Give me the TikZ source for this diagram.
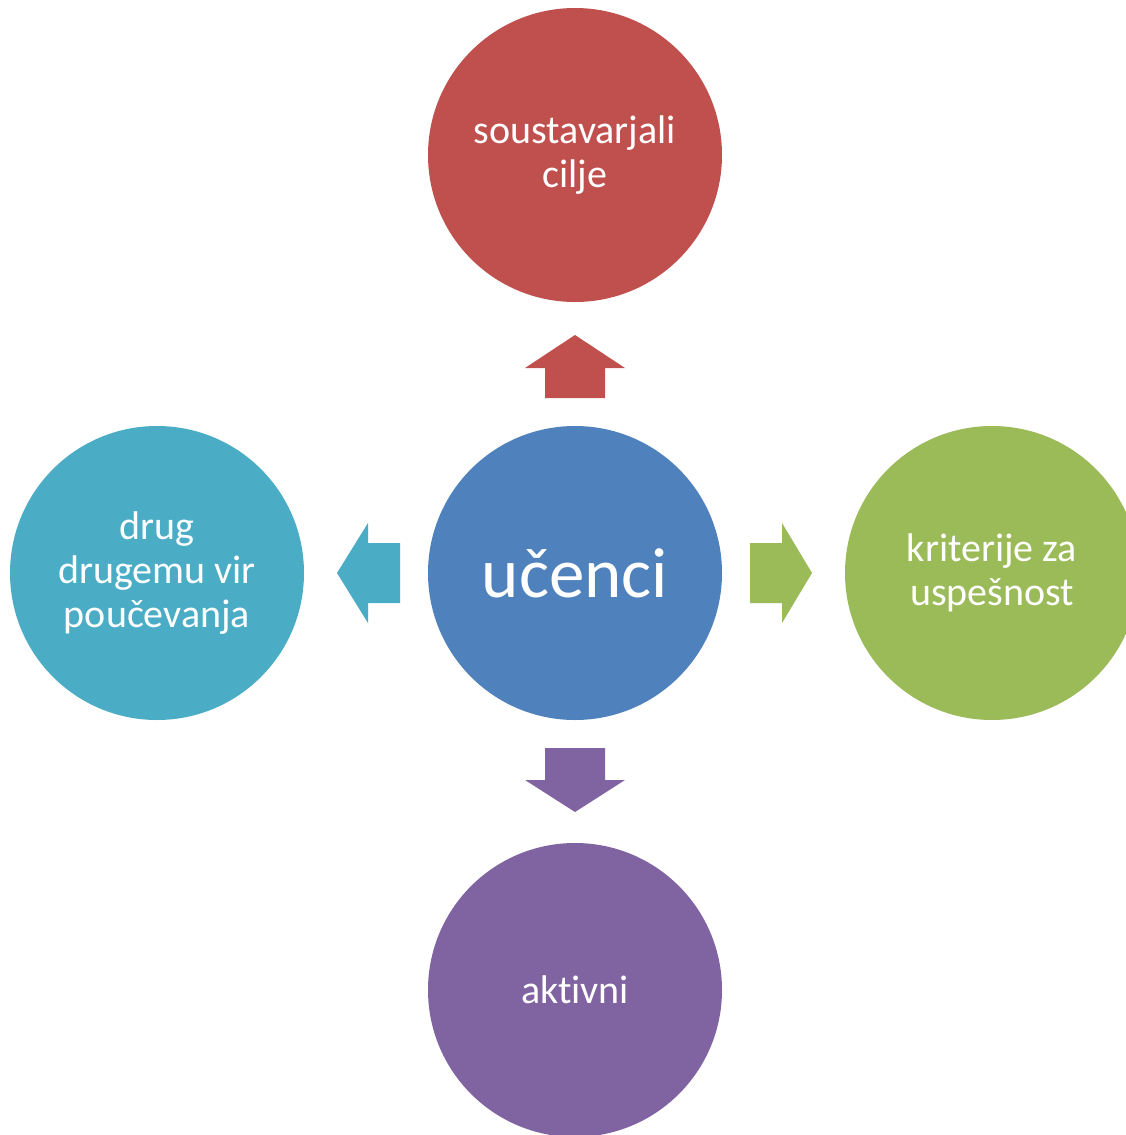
\documentclass[tikz,border=0pt]{standalone}
\usepackage{fontspec}
\setmainfont{Carlito}[Ligatures=NoCommon]
\definecolor{cred}{HTML}{C0504D}
\definecolor{cblue}{HTML}{4F81BD}
\definecolor{cgreen}{HTML}{9BBB59}
\definecolor{cpurple}{HTML}{8064A2}
\definecolor{cteal}{HTML}{4BACC6}
\begin{document}
\begin{tikzpicture}[x=1pt,y=-1pt,
  bubble/.style={circle,minimum size=294pt,inner sep=0pt,text=white,align=center,font=\fontsize{40}{44}\selectfont}]
\useasboundingbox (0,0) rectangle (1126,1135);
\clip (0,0) rectangle (1126,1135);
\node[bubble,fill=cblue,font=\fontsize{71}{76}\selectfont] (c) at (575,573) {učenci};
\node[bubble,fill=cred] (t) at (575,155) {soustavarjali\\cilje};
\node[bubble,fill=cteal] (l) at (157,573) {drug\\drugemu vir\\poučevanja};
\node[bubble,fill=cgreen] (r) at (992,573) {kriterije za\\uspešnost};
\node[bubble,fill=cpurple] (b) at (575,990) {aktivni};
% arrows
\fill[cred] (545,398) -- (545,368) -- (525,368) -- (575,335) -- (625,368) -- (605,368) -- (605,398) -- cycle;
\fill[cpurple] (545,748) -- (545,780) -- (525,780) -- (575,812) -- (625,780) -- (605,780) -- (605,748) -- cycle;
\fill[cgreen] (750,543) -- (782,543) -- (782,523) -- (812,573) -- (782,623) -- (782,603) -- (750,603) -- cycle;
\fill[cteal] (400,543) -- (368,543) -- (368,523) -- (337,573) -- (368,623) -- (368,603) -- (400,603) -- cycle;
\end{tikzpicture}
\end{document}
